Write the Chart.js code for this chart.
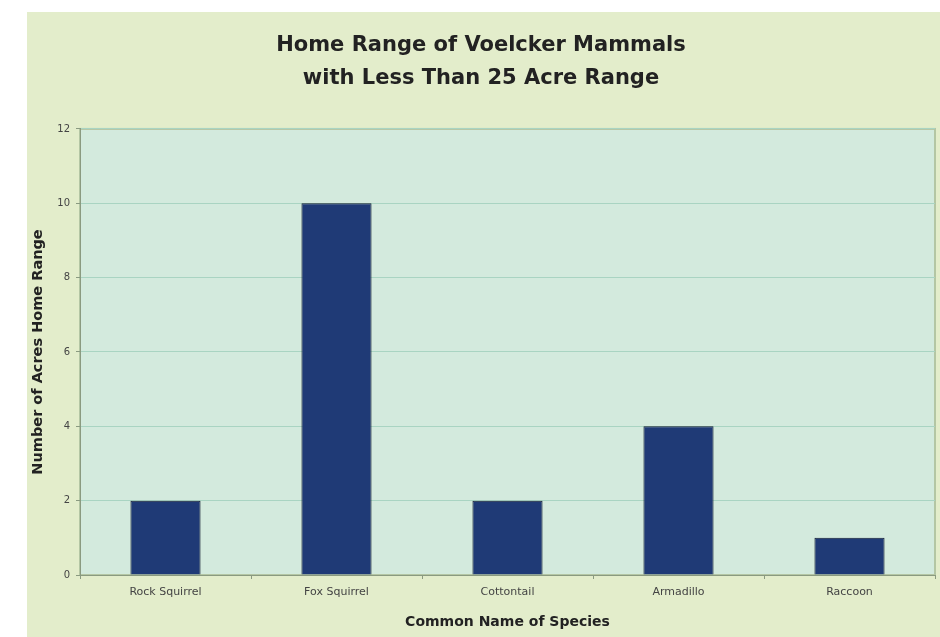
<!DOCTYPE html>
<html>
<head>
<meta charset="utf-8">
<script src="https://cdn.jsdelivr.net/npm/chart.js@4/dist/chart.umd.min.js"></script>
<style>
  body { margin: 0; background: #fff; }
  #panel { position: absolute; left: 27px; top: 12px; width: 913px; height: 625px; background: #e3edcb; }
</style>
</head>
<body>
<div id="panel"><canvas id="myChart" width="913" height="625"></canvas></div>
<script>
// chart data
const species = ['Rock Squirrel', 'Fox Squirrel', 'Cottontail', 'Armadillo', 'Raccoon'];
const acres = [2, 10, 2, 4, 1];
const titleLines = ['Home Range of Voelcker Mammals', 'with Less Than 25 Acre Range'];

const FONT = 'DejaVu Sans, Verdana, sans-serif';

// paints the plot area background and frame
const plotBg = {
  id: 'plotBg',
  beforeDraw(chart) {
    const { ctx, chartArea: a } = chart;
    ctx.save();
    ctx.fillStyle = '#d3eadd';
    ctx.fillRect(a.left, a.top, a.right - a.left, a.bottom - a.top);
    ctx.strokeStyle = '#b4c6a4';
    ctx.lineWidth = 2;
    ctx.strokeRect(a.left, a.top, a.right - a.left, a.bottom - a.top);
    ctx.restore();
  }
};

document.addEventListener('DOMContentLoaded', () => {
  const ctx = document.getElementById('myChart').getContext('2d');
  const myChart = new Chart(ctx, {
    type: 'bar',
    data: {
      labels: species,
      datasets: [{
        data: acres,
        backgroundColor: '#1f3a76',
        borderColor: '#121a30',
        borderWidth: 1,
        categoryPercentage: 1,
        barPercentage: 0.41
      }]
    },
    options: {
      responsive: false,
      animation: false,
      layout: { padding: { left: 0, right: 5, top: 0, bottom: 0 } },
      plugins: {
        legend: { display: false },
        tooltip: { enabled: false },
        title: {
          display: true,
          text: titleLines,
          color: '#222',
          font: { family: FONT, size: 21, weight: 'bold', lineHeight: 1.57 },
          padding: { top: 17, bottom: 34 }
        }
      },
      scales: {
        x: {
          afterFit: (scale) => { scale.height = 62; },
          grid: { offset: true, drawOnChartArea: false, tickLength: 4, color: '#8a9a80' },
          border: { color: '#8a9a80', width: 1 },
          ticks: { color: '#444', padding: 7, font: { family: FONT, size: 11 } },
          title: {
            display: true,
            text: 'Common Name of Species',
            color: '#222',
            padding: { top: 0, bottom: 6 },
            font: { family: FONT, size: 14, weight: 'bold' }
          }
        },
        y: {
          min: 0,
          max: 12,
          afterFit: (scale) => { scale.width = 53; },
          grid: { color: '#a9d4c2', lineWidth: 1, tickLength: 4, tickColor: '#8a9a80' },
          border: { color: '#8a9a80', width: 1 },
          ticks: { stepSize: 2, color: '#444', padding: 6, font: { family: FONT, size: 10 } },
          title: {
            display: true,
            text: 'Number of Acres Home Range',
            color: '#222',
            padding: { top: 3, bottom: 0 },
            font: { family: FONT, size: 14.5, weight: 'bold' }
          }
        }
      }
    },
    plugins: [plotBg]
  });
});
</script>
</body>
</html>
